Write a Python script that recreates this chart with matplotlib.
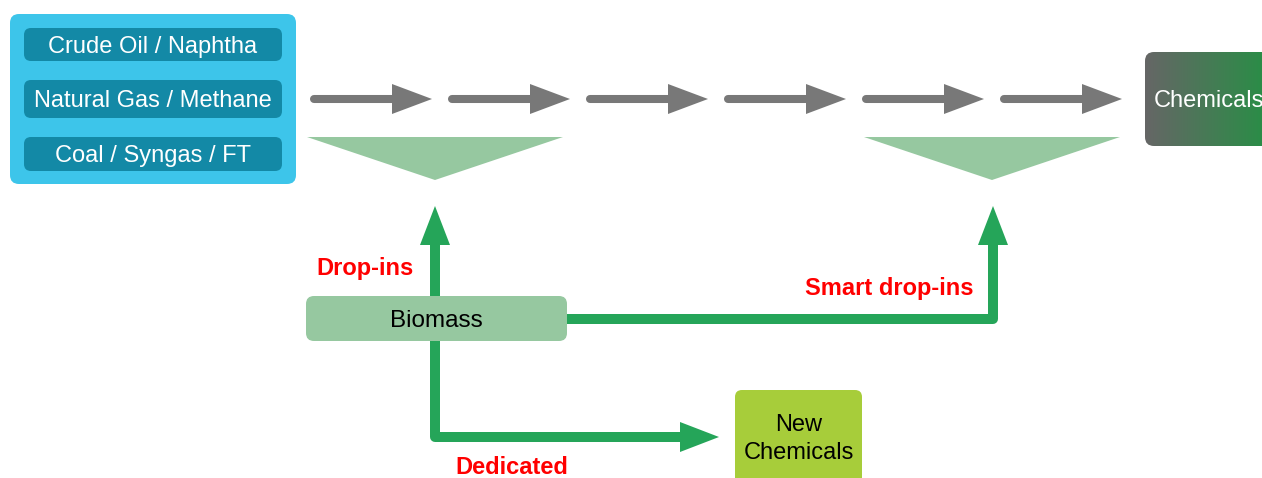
import numpy as np
import matplotlib.pyplot as plt
from matplotlib.patches import FancyBboxPatch, Polygon

plt.rcParams['font.family'] = ['Liberation Sans', 'DejaVu Sans']

feedstocks = ["Crude Oil / Naphtha", "Natural Gas / Methane", "Coal / Syngas / FT"]
product_label = "Chemicals"
biomass_label = "Biomass"
new_label = "New\nChemicals"
route_labels = ["Drop-ins", "Smart drop-ins", "Dedicated"]
n_steps = 6

BLUE_OUT = "#3dc5ea"
BLUE_IN = "#1389a6"
GRAY = "#787878"
PALE = "#96c8a0"
GREEN = "#25a559"
LIME = "#a7cd3a"
RED = "#ff0000"

fig = plt.figure(figsize=(12.62, 4.78), dpi=100)
ax = fig.add_axes([0, 0, 1, 1])
ax.set_xlim(0, 1262)
ax.set_ylim(478, 0)
ax.axis('off')


def rbox(x, y, w, h, color, r=8, z=1):
    p = FancyBboxPatch((x, y), w, h, boxstyle=f"round,pad=0,rounding_size={r}",
                       fc=color, ec='none', zorder=z)
    ax.add_patch(p)
    return p


def head(tip, direction, hl, hw, color):
    tx, ty = tip
    dx, dy = direction
    bx, by = tx - dx * hl, ty - dy * hl
    px, py = -dy * hw, dx * hw
    ax.add_patch(Polygon([(tx, ty), (bx + px, by + py), (bx - px, by - py)],
                         closed=True, fc=color, ec='none', zorder=3))


# feedstock panel
rbox(10, 14, 286, 170, BLUE_OUT, r=9)
inner = [(28, 33), (80, 38), (137, 34)]
for (y, h), name in zip(inner, feedstocks):
    rbox(24, y, 258, h, BLUE_IN, r=7, z=2)
    ax.text(153, y + h / 2 + 2, name, color='white', fontsize=17,
            ha='center', va='center', zorder=3)

# grey process arrows
for i in range(n_steps):
    x0 = 314 + i * 138
    tip = x0 + 118
    ax.plot([x0, tip - 38], [99, 99], color=GRAY, lw=5.8,
            solid_capstyle='round', zorder=2)
    head((tip, 99), (1, 0), 40, 15, GRAY)

# pale insertion triangles
for cx in [435, 992]:
    ax.add_patch(Polygon([(cx - 128, 137), (cx + 128, 137), (cx, 180)],
                         closed=True, fc=PALE, ec='none', zorder=2))

# chemicals box with gradient
cb = rbox(1145, 52, 160, 94, 'none', r=9)
grad = np.linspace(0, 1, 256)[None, :]
c0 = np.array([0.40, 0.40, 0.40])
c1 = np.array([0.17, 0.55, 0.28])
img = c0 + (c1 - c0) * grad[..., None]
im = ax.imshow(img, extent=(1145, 1262, 146, 52), aspect='auto', zorder=2)
im.set_clip_path(cb)
ax.set_xlim(0, 1262)
ax.set_ylim(478, 0)
ax.text(1154, 101, product_label, color='white', fontsize=17,
        ha='left', va='center', zorder=3)

# green routes
ax.plot([435, 435], [244, 296], color=GREEN, lw=7.2, solid_capstyle='butt', zorder=2)
head((435, 206), (0, -1), 39, 15, GREEN)
ax.plot([435, 435, 682], [341, 437, 437], color=GREEN, lw=7.2,
        solid_capstyle='butt', solid_joinstyle='round', zorder=2)
head((719, 437), (1, 0), 39, 15, GREEN)
ax.plot([567, 993, 993], [319, 319, 244], color=GREEN, lw=7.2,
        solid_capstyle='butt', solid_joinstyle='round', zorder=2)
head((993, 206), (0, -1), 39, 15, GREEN)

# biomass and new chemicals
rbox(306, 296, 261, 45, PALE, r=8, z=3)
ax.text(436, 321, biomass_label, color='black', fontsize=17.5,
        ha='center', va='center', zorder=4)
rbox(735, 390, 127, 100, LIME, r=7, z=3)
ax.text(799, 439, new_label, color='black', fontsize=17,
        ha='center', va='center', linespacing=1.4, zorder=4)

# route labels
ax.text(365, 269, route_labels[0], color=RED, fontsize=17, fontweight='bold',
        ha='center', va='center')
ax.text(889, 288, route_labels[1], color=RED, fontsize=17, fontweight='bold',
        ha='center', va='center')
ax.text(512, 467, route_labels[2], color=RED, fontsize=17, fontweight='bold',
        ha='center', va='center')

fig.savefig("out.png", dpi=100)
